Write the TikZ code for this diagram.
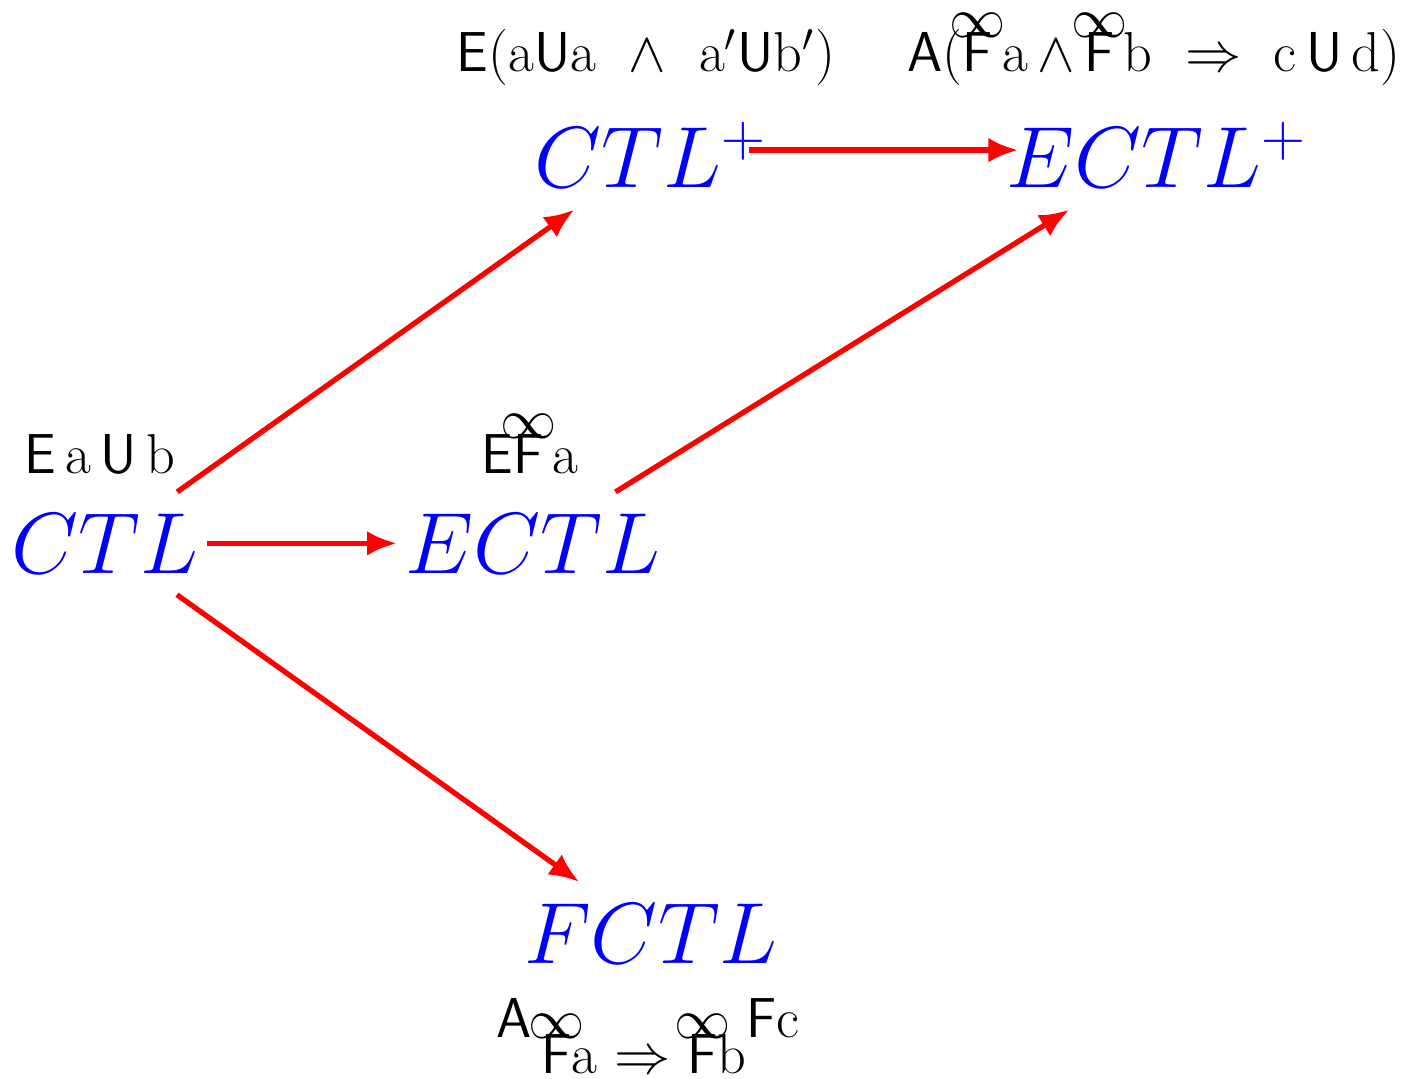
\documentclass[tikz,border=0pt]{standalone}
\usepackage{fix-cm}
\usetikzlibrary{arrows.meta}
\newcommand{\infF}{\setbox0\hbox{\textsf{F}}\rlap{\hbox to\wd0{\hss\raisebox{0.62em}{$\infty$}\hss}}\box0}
\begin{document}
\begin{tikzpicture}[x=0.01cm, y=-0.01cm,
    logic/.style={text=blue, font=\fontsize{24.7}{30}\selectfont, anchor=base, inner xsep=0.08cm, inner ysep=0.21cm},
    formula/.style={font=\fontsize{16}{19}\selectfont, anchor=base, inner sep=0pt},
    imp/.style={red, line width=1.5pt, -{Latex[length=8.5pt,width=7pt]}}]
          \useasboundingbox (0,0) rectangle (1409,1079);
          % Logics
          \node[logic] (ctl) at (105,573) {$CTL$};
          \node[logic] (ectl) at (533,573) {$ECTL$};
          \node[logic] (ctlp) at (651,188) {$CTL^+$};
          \node[logic] (ectlp) at (1157,188) {$ECTL^+$};
          \node[logic] (fctl) at (651,963) {$FCTL$};
          % Formulas
          \node[formula] (f1) at (100,473) {\textsf{E}\,a\,\textsf{U}\,b};
          \node[formula] (f2) at (530,473) {\textsf{E}\infF\,a};
          \node[formula] (f3) at (646,72) {\textsf{E}(a\textsf{U}a $\;\wedge\;$ a$'$\textsf{U}b$'$)};
          \node[formula] (f4) at (1154,72) {\textsf{A}(\infF\,a\,$\wedge$\,\infF\,b $\;\Rightarrow\;$ c\,\textsf{U}\,d)};
          \node[formula] (f5) at (648,1037) {\textsf{A}\,\raisebox{-0.65em}{\infF a $\Rightarrow$ \infF b}\textsf{F}c};
          % Inclusions
          \draw[imp] (ctl) -- (ectl);
          \draw[imp] (ctl) -- (ctlp);
          \draw[imp] (ctl) -- (fctl);
          \draw[imp] (ectl) -- (ectlp);
          \draw[imp, shorten <=-0.27cm, shorten >=-0.2cm] ([yshift=0.05cm]ctlp.east) -- ([yshift=0.05cm]ectlp.west);
        \end{tikzpicture}
\end{document}
